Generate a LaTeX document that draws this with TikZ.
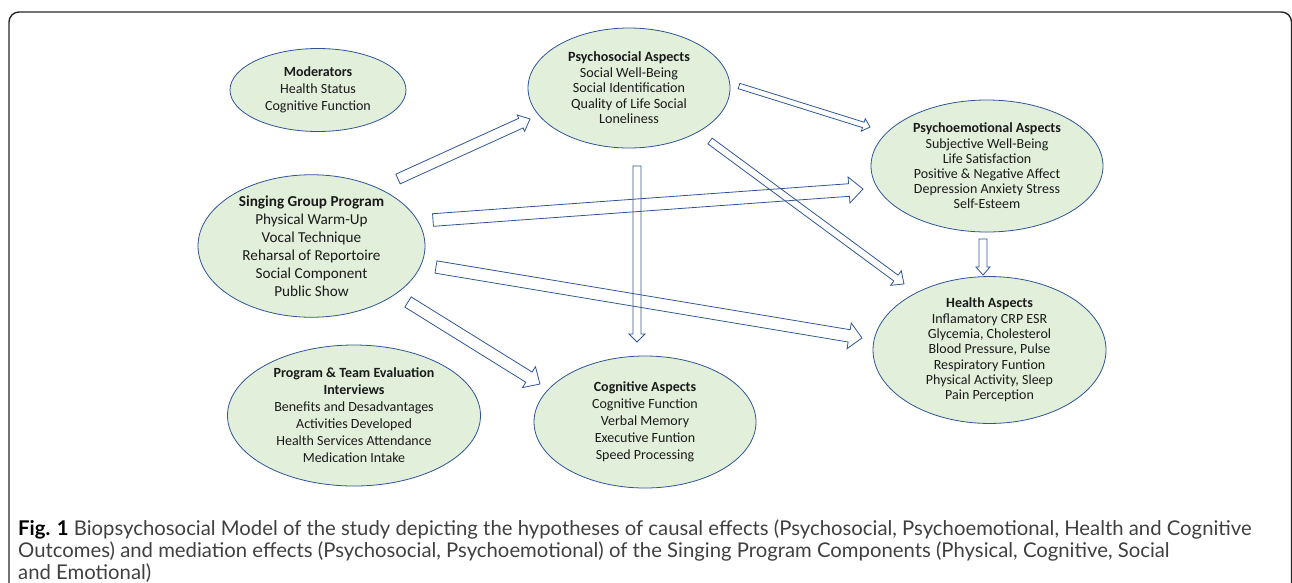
\documentclass[tikz,border=0pt]{standalone}
\usepackage{fontspec}
\setmainfont{Carlito}
\newfontfamily\capfont{Lato}
\usetikzlibrary{shapes.geometric,calc}

\definecolor{aspectfill}{HTML}{E2EFDA}
\definecolor{aspectline}{HTML}{2F5597}
\definecolor{textdark}{HTML}{1A1A1A}
\definecolor{captext}{HTML}{404040}

% hollow block arrow: tail, tip, shaft half width, head half width, head length
\newcommand{\blockarrow}[5]{%
  \draw[arrowline] let \p1=(#1), \p2=(#2), \n1={atan2(\y2-\y1,\x2-\x1)}, \n2={veclen(\x2-\x1,\y2-\y1)} in
    [shift={(\p1)}, rotate=\n1]
    (0pt,-#3pt) -- ({\n2-#5pt},-#3pt) -- ({\n2-#5pt},-#4pt) -- (\n2,0pt)
    -- ({\n2-#5pt},#4pt) -- ({\n2-#5pt},#3pt) -- (0pt,#3pt) -- cycle;
}

\tikzset{
  aspect/.style={ellipse, draw=aspectline, fill=aspectfill, line width=0.8pt, inner sep=0pt,
    align=center, text=textdark, font=\fontsize{14}{17}\selectfont},
  arrowline/.style={draw=aspectline, line width=0.8pt, line join=miter},
}

\begin{document}
\begin{tikzpicture}[x=1pt,y=-1pt]
\useasboundingbox (0,0) rectangle (1292,582);
\clip (0,0) rectangle (1292,582);
\draw[line width=1.4pt, black!85, rounded corners=10pt] (9,12) rectangle (1291.5,640);

% aspects
\node[aspect, minimum width=176, minimum height=83] (mod) at (318,90)
  {\textbf{Moderators}\\Health Status\\Cognitive Function};
\node[aspect, minimum width=227, minimum height=135, font=\fontsize{15.2}{18}\selectfont] (sing) at (311.5,246)
  {\textbf{Singing Group Program}\\Physical Warm-Up\\Vocal Technique\\Reharsal of Reportoire\\Social Component\\Public Show};
\node[aspect, minimum width=202, minimum height=120, font=\fontsize{14.1}{15.5}\selectfont] (soc) at (629,88)
  {\textbf{Psychosocial Aspects}\\Social Well-Being\\Social Identification\\Quality of Life Social\\Loneliness};
\node[aspect, minimum width=232, minimum height=132, font=\fontsize{14}{15.2}\selectfont] (emo) at (987,166)
  {\textbf{Psychoemotional Aspects}\\Subjective Well-Being\\Life Satisfaction\\Positive \& Negative Affect\\Depression Anxiety Stress\\Self-Esteem};
\node[aspect, minimum width=233, minimum height=129, font=\fontsize{14}{15.3}\selectfont] (hea) at (989.5,350)
  {\textbf{Health Aspects}\\Inflamatory CRP ESR\\Glycemia, Cholesterol\\Blood Pressure, Pulse\\Respiratory Funtion\\Physical Activity, Sleep\\Pain Perception};
\node[aspect, minimum width=253, minimum height=141] (prog) at (354,415.5)
  {\textbf{Program \& Team Evaluation}\\\textbf{Interviews}\\Benefits and Desadvantages\\Activities Developed\\Health Services Attendance\\Medication Intake};
\node[aspect, minimum width=222, minimum height=132] (cog) at (645,422)
  {\textbf{Cognitive Aspects}\\Cognitive Function\\Verbal Memory\\Executive Funtion\\Speed Processing};

% arrow ends
\coordinate (sing out1) at (398,179);
\coordinate (soc in) at (530,119);
\coordinate (sing out2) at (433,220);
\coordinate (emo in1) at (863,189);
\coordinate (sing out3) at (436,267);
\coordinate (hea in1) at (862,338);
\coordinate (sing out4) at (408,302);
\coordinate (cog in1) at (540,384);
\coordinate (soc out1) at (637,166);
\coordinate (cog in2) at (637,342);
\coordinate (soc out2) at (739,86);
\coordinate (emo in2) at (870,127);
\coordinate (soc out3) at (710,141);
\coordinate (hea in2) at (904,284);
\coordinate (emo out) at (983,239);
\coordinate (hea in3) at (983,275);

\blockarrow{sing out1}{soc in}{5.3}{9}{10}
\blockarrow{sing out2}{emo in1}{6.3}{13}{14}
\blockarrow{sing out3}{hea in1}{6.2}{13}{13}
\blockarrow{sing out4}{cog in1}{6}{12.3}{13}
\blockarrow{soc out1}{cog in2}{4}{8}{8}
\blockarrow{soc out2}{emo in2}{2.8}{6.5}{7}
\blockarrow{soc out3}{hea in2}{3.6}{9}{10}
\blockarrow{emo out}{hea in3}{4}{7}{8}

% caption
\node[anchor=north west, align=left, inner sep=0pt, text=captext, font=\capfont\fontsize{20.3}{22}\selectfont] (cap) at (18,520)
  {{\color{black}\bfseries Fig. 1} Biopsychosocial Model of the study depicting the hypotheses of causal effects (Psychosocial, Psychoemotional, Health and Cognitive\\
   Outcomes) and mediation effects (Psychosocial, Psychoemotional) of the Singing Program Components (Physical, Cognitive, Social\\
   and Emotional)};
\end{tikzpicture}
\end{document}
